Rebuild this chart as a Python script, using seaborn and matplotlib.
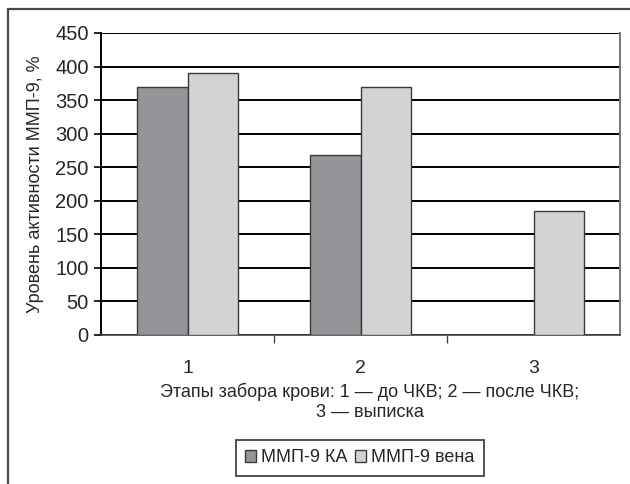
import matplotlib
matplotlib.use('Agg')
import matplotlib.pyplot as plt
from matplotlib.patches import Rectangle
import numpy as np
import pandas as pd
import seaborn as sns

stages = ['1', '2', '3']
series_names = ['ММП-9 КА', 'ММП-9 вена']
mmp9_ka = [370, 268, np.nan]
mmp9_vena = [390, 370, 185]
y_ticks = [0, 50, 100, 150, 200, 250, 300, 350, 400, 450]

df = pd.DataFrame({
    'stage': stages * 2,
    'series': [series_names[0]] * 3 + [series_names[1]] * 3,
    'value': mmp9_ka + mmp9_vena,
})

sns.set_style('white')
plt.rcParams['font.family'] = ['Liberation Sans', 'DejaVu Sans']
W, H = 630, 484
fig = plt.figure(figsize=(W / 100, H / 100), dpi=100)

# outer frame (cut off by the image at right and bottom)
fig.patches.append(Rectangle((8 / W, -0.1), 1.2, (H - 9) / H + 0.1, transform=fig.transFigure,
                             fill=False, edgecolor='#4a4a4a', linewidth=1.6))

ax = fig.add_axes([101 / W, (H - 335) / H, 519 / W, 302 / H])
sns.barplot(data=df, x='stage', y='value', hue='series', order=stages, hue_order=series_names,
            palette=['#939598', '#d1d3d4'], width=0.58, edgecolor='#3a3a3a', linewidth=1.0,
            saturation=1, ax=ax, legend=True, zorder=3)

ax.set_ylim(0, 450)
ax.set_yticks(y_ticks)
ax.set_xlim(-0.5, 2.5)
ax.yaxis.grid(True, color='black', linewidth=1.4, zorder=0)
ax.set_axisbelow(True)
ax.tick_params(axis='y', length=5, width=1.2, color='black', left=True, labelsize=14.5, pad=4)
ax.tick_params(axis='x', which='major', length=0, labelsize=14, pad=18)
ax.set_xticks([0.5, 1.5], minor=True)
ax.tick_params(axis='x', which='minor', length=6, width=1.0, color='#444444', bottom=True)
ax.set_xlabel('')
ax.set_ylabel('Уровень активности ММП-9, %', fontsize=13, labelpad=8)

for side in ['top']:
    ax.spines[side].set_visible(False)
ax.spines['left'].set_color('black')
ax.spines['left'].set_linewidth(1.4)
ax.spines['bottom'].set_color('#444444')
ax.spines['bottom'].set_linewidth(1.2)
ax.spines['right'].set_color('#777777')
ax.spines['right'].set_linewidth(1.4)

fig.text(370 / W, 1 - 402 / H, 'Этапы забора крови: 1 — до ЧКВ; 2 — после ЧКВ;\n3 — выписка',
         ha='center', va='center', fontsize=13, multialignment='center', linespacing=1.25)

handles, labels = ax.get_legend_handles_labels()
ax.get_legend().remove()
leg = fig.legend(handles, labels, loc='center', bbox_to_anchor=(360 / W, 1 - 458 / H), ncol=2,
                 frameon=True, fancybox=False, edgecolor='black', fontsize=13,
                 handlelength=0.6, handleheight=0.6, handletextpad=0.3, columnspacing=0.4,
                 borderpad=0.5, borderaxespad=0)
leg.get_frame().set_linewidth(1.2)

fig.savefig('out.png', dpi=100)
